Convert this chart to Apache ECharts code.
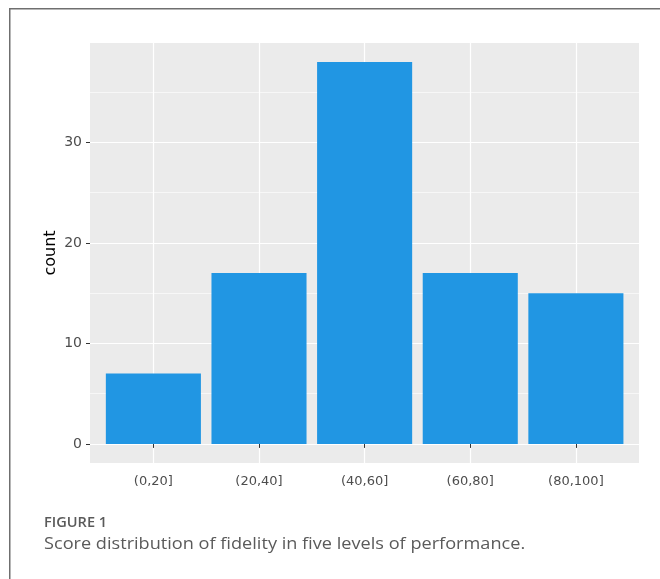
<!DOCTYPE html>
<html>
<head>
<meta charset="utf-8">
<script src="https://cdn.jsdelivr.net/npm/echarts@6/dist/echarts.min.js"></script>
<style>
html,body{margin:0;padding:0;background:#fff;}
#chart{width:660px;height:579px;}
</style>
</head>
<body>
<div id="chart"></div>
<script>
const categories = ['(0,20]', '(20,40]', '(40,60]', '(60,80]', '(80,100]'];
const counts = [7, 17, 38, 17, 15];
const yTickValues = [0, 10, 20, 30];
const yMin = -1.9;
const yMax = 39.9;
const yTitle = 'count';
const figureLabel = 'FIGURE 1';
const captionText = 'Score distribution of fidelity in five levels of performance.';

const chart = echarts.init(document.getElementById('chart'), null, {renderer: 'canvas'});
const axisFont = 'DejaVu Sans';
const option = {
  backgroundColor: '#ffffff',
  animation: false,
  grid: [
    {left: 90, right: 21, top: 43, bottom: 116, show: true, backgroundColor: '#EBEBEB', borderWidth: 0},
    {left: 100.56, right: 31.3, top: 43, bottom: 116}
  ],
  xAxis: [
    {gridIndex: 0, type: 'value', show: false, min: 0, max: 1},
    {
      gridIndex: 1, type: 'category', data: categories,
      axisLine: {show: false},
      axisTick: {show: true, alignWithLabel: true, length: 4, lineStyle: {color: '#333333', width: 1}},
      axisLabel: {color: '#4D4D4D', fontSize: 13, fontFamily: axisFont, margin: 12},
      splitLine: {show: true, alignWithLabel: true, lineStyle: {color: '#ffffff', width: 1.2}}
    }
  ],
  yAxis: [
    {
      gridIndex: 0, type: 'value', min: yMin, max: yMax,
      name: yTitle, nameLocation: 'middle', nameGap: 31, nameMoveOverlap: false,
      nameTextStyle: {color: '#000000', fontSize: 16, fontFamily: axisFont},
      axisLine: {show: false},
      axisTick: {show: true, length: 4, customValues: yTickValues, lineStyle: {color: '#333333', width: 1}},
      axisLabel: {color: '#4D4D4D', fontSize: 14, fontFamily: axisFont, margin: 8, customValues: yTickValues},
      splitLine: {show: true, lineStyle: {color: '#ffffff', width: 1.2}},
      minorTick: {show: false, splitNumber: 2},
      minorSplitLine: {show: true, lineStyle: {color: '#ffffff', width: 0.6}}
    },
    {gridIndex: 1, type: 'value', min: yMin, max: yMax, show: false}
  ],
  series: [{
    type: 'bar', xAxisIndex: 1, yAxisIndex: 1,
    data: counts, barWidth: '90%',
    itemStyle: {color: '#2196E3'}
  }],
  graphic: [
    {type: 'polyline', shape: {points: [[9.75, 579], [9.75, 8.75], [660, 8.75]]},
     style: {stroke: '#6f6f6f', lineWidth: 1.5, fill: null}, silent: true},
    {type: 'text', x: 44, y: 516.5, scaleX: 1.04,
     style: {text: figureLabel, fill: '#5a5a5a', font: '600 14px "Open Sans"'}},
    {type: 'text', x: 44, y: 536.5, scaleX: 1.17,
     style: {text: captionText, fill: '#5a5a5a', font: '15.5px "Open Sans"'}}
  ]
};
chart.setOption(option);
</script>
</body>
</html>
